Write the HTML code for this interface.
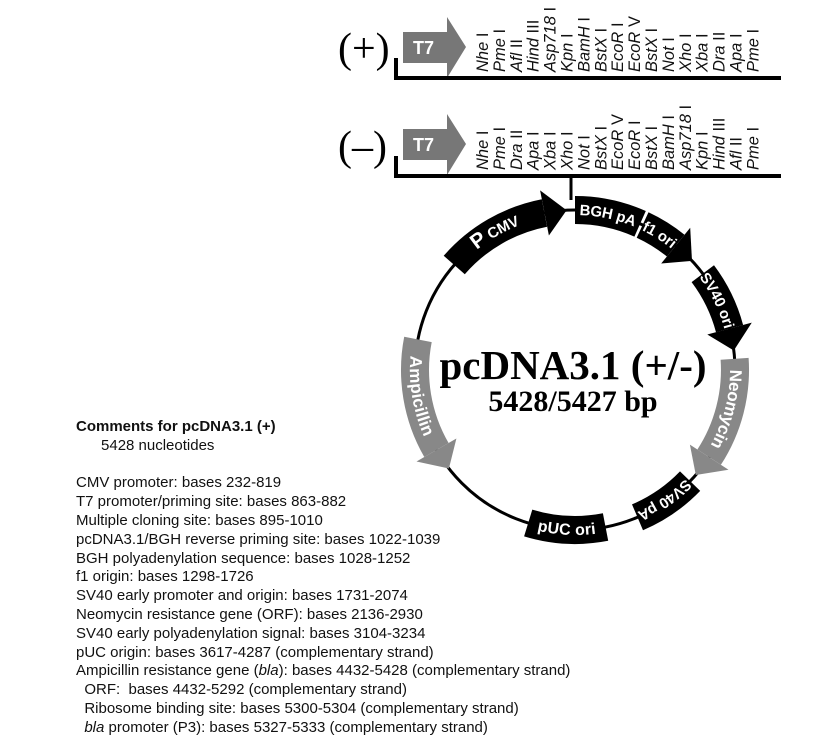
<!DOCTYPE html>
<html><head><meta charset="utf-8">
<style>
html,body{margin:0;padding:0;background:#fff;}
body{width:835px;height:745px;position:relative;overflow:hidden;font-family:"Liberation Sans",sans-serif;}
#info{position:absolute;left:76px;top:418px;font-size:15px;line-height:18.8px;color:#111;white-space:pre;}
</style></head><body>
<svg id="s" width="835" height="745" style="position:absolute;left:0;top:0" xmlns="http://www.w3.org/2000/svg">
<g font-family="Liberation Serif, serif" fill="#000">
<text x="338" y="62" font-size="42">(+)</text>
<text x="338" y="160" font-size="42">(–)</text>
<text x="573" y="379" font-size="41" font-weight="bold" text-anchor="middle">pcDNA3.1 (+/-)</text>
<text x="573" y="411" font-size="30" font-weight="bold" text-anchor="middle">5428/5427 bp</text>
</g>
<g fill="#777">
<polygon points="403,32 447,32 447,17 466,47 447,78 447,63 403,63"/>
<polygon points="403,129 447,129 447,114 466,144 447,175 447,160 403,160"/>
</g>
<g fill="#fff" font-family="Liberation Sans,sans-serif" font-weight="bold" font-size="18">
<text x="413" y="54">T7</text><text x="413" y="151">T7</text>
</g>
<g stroke="#000" stroke-width="4" fill="none">
<polyline points="396,58 396,78 781,78"/>
<polyline points="396,156 396,176 781,176"/>
<line x1="571" y1="176" x2="571" y2="200" stroke-width="3"/>
</g>
<circle cx="575" cy="370" r="160" fill="none" stroke="#000" stroke-width="3"/>
<g id="feat"></g>
<g id="enz" font-family="Liberation Sans,sans-serif" font-size="16.5" fill="#111"></g>
</svg>
<div id="info"><b>Comments for pcDNA3.1 (+)</b>
      5428 nucleotides

CMV promoter: bases 232-819
T7 promoter/priming site: bases 863-882
Multiple cloning site: bases 895-1010
pcDNA3.1/BGH reverse priming site: bases 1022-1039
BGH polyadenylation sequence: bases 1028-1252
f1 origin: bases 1298-1726
SV40 early promoter and origin: bases 1731-2074
Neomycin resistance gene (ORF): bases 2136-2930
SV40 early polyadenylation signal: bases 3104-3234
pUC origin: bases 3617-4287 (complementary strand)
Ampicillin resistance gene (<i>bla</i>): bases 4432-5428 (complementary strand)
  ORF:  bases 4432-5292 (complementary strand)
  Ribosome binding site: bases 5300-5304 (complementary strand)
  <i>bla</i> promoter (P3): bases 5327-5333 (complementary strand)</div>
<script>
var NS="http://www.w3.org/2000/svg",cx=575,cy=370,R=160,w=14;
function P(a,r){var t=a*Math.PI/180;return [(cx+r*Math.sin(t)).toFixed(1),(cy-r*Math.cos(t)).toFixed(1)];}
function arc(a1,a2,r){var p=P(a2,r),sw=a2>a1?1:0,l=Math.abs(a2-a1)>180?1:0;return "A"+r+","+r+" 0 "+l+" "+sw+" "+p[0]+","+p[1];}
var g=document.getElementById("feat"),d=0;
function el(n,at,par){var e=document.createElementNS(NS,n);for(var k in at)e.setAttribute(k,at[k]);(par||g).appendChild(e);return e;}
function feat(a1,a2,col,arrow,label,fs){
  var dir=a2>a1?1:-1,h=arrow?8*dir:0,ae=a2-h;
  var s="M"+P(a1,R+w)+" "+arc(a1,ae,R+w)+" L"+P(ae,R-w)+" "+arc(ae,a1,R-w)+"Z";
  el("path",{d:s,fill:col});
  if(arrow){el("polygon",{points:[P(ae,R+w+9),P(a2,R),P(ae,R-w-9)].join(" "),fill:col});}
  var id="tp"+(d++);
  var m1=a1,m2=ae;
  var pp=P(m1,R);
  el("path",{id:id,d:"M"+pp+" "+arc(m1,m2,R),fill:"none"});
  var t=el("text",{fill:"#fff","font-family":"Liberation Sans,sans-serif","font-weight":"bold","font-size":fs||14,dy:"5"});
  var tp=el("textPath",{href:"#"+id,startOffset:"50%","text-anchor":"middle"},t);
  tp.setAttributeNS("http://www.w3.org/1999/xlink","xlink:href","#"+id);
  tp.innerHTML=label.t;
}
feat(-49,-3,"#000",1,{t:'<tspan font-size="21">P</tspan> CMV'},15);
feat(0,24,"#000",0,{t:"BGH pA"},15);
feat(25,47,"#000",1,{t:"f1 ori"},15);
feat(53,83,"#000",1,{t:"SV40 ori"},15);
feat(86,131,"#888",1,{t:"Neomycin"},17);
feat(134,157,"#000",0,{t:"SV40 pA"},15);
feat(197,169,"#000",0,{t:"pUC ori"},16);
feat(281,232,"#888",1,{t:"Ampicillin"},17);
var e1=["Nhe I","Pme I","Afl II","Hind III","Asp718 I","Kpn I","BamH I","BstX I","EcoR I","EcoR V","BstX I","Not I","Xho I","Xba I","Dra II","Apa I","Pme I"];
var e2=["Nhe I","Pme I","Dra II","Apa I","Xba I","Xho I","Not I","BstX I","EcoR V","EcoR I","BstX I","BamH I","Asp718 I","Kpn I","Hind III","Afl II","Pme I"];
var ez=document.getElementById("enz");
function row(arr,y){arr.forEach(function(n,i){var x=488+i*16.9;var parts=n.split(" ");
 var t=el("text",{transform:"translate("+x+","+y+") rotate(-90)"},ez);
 t.innerHTML='<tspan font-style="italic">'+parts[0]+'</tspan> '+parts[1];});}
row(e1,72);row(e2,170);
</script>
</body></html>
